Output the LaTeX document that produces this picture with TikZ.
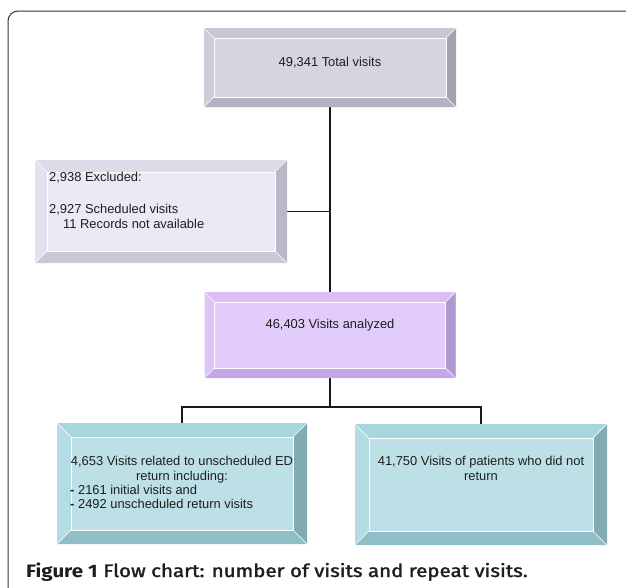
\documentclass[tikz,border=0pt]{standalone}
\usepackage{fontspec}
\setmainfont{Liberation Sans}
\newfontfamily\capfont{Fira Sans}
\newfontfamily\capsemi{Fira Sans}[FakeBold=1.6]
\usetikzlibrary{calc}
\definecolor{txtc}{HTML}{1E1E1E}
\definecolor{linec}{HTML}{1A1A1A}
\definecolor{framec}{HTML}{333333}
% grey box
\definecolor{gFace}{HTML}{D5D5E0}\definecolor{gTop}{HTML}{C6C6D4}\definecolor{gLeft}{HTML}{CDCDD9}\definecolor{gRight}{HTML}{A2A2B0}\definecolor{gBot}{HTML}{B2B2C2}
% light excluded box
\definecolor{eFace}{HTML}{EAEAF5}\definecolor{eTop}{HTML}{DCDCE8}\definecolor{eLeft}{HTML}{E2E2EE}\definecolor{eRight}{HTML}{B8B8C6}\definecolor{eBot}{HTML}{C8C8D6}
% purple box
\definecolor{pFace}{HTML}{E2CCFA}\definecolor{pTop}{HTML}{DCBDF6}\definecolor{pLeft}{HTML}{DEC5F8}\definecolor{pRight}{HTML}{B098D0}\definecolor{pBot}{HTML}{C4A7E6}
% teal boxes
\definecolor{tFace}{HTML}{BCE0E6}\definecolor{tTop}{HTML}{A8D6DE}\definecolor{tLeft}{HTML}{B4DCE4}\definecolor{tRight}{HTML}{82AAB2}\definecolor{tBot}{HTML}{90BEC6}
\newcommand\bevelbox[7]{%
  \fill[#3] (#1.north west) rectangle (#1.south east);
  \fill[#4] (#1.north west) -- (#1.north east) -- ($(#1.north east)+(-#2,#2)$) -- ($(#1.north west)+(#2,#2)$) -- cycle;
  \fill[#5] (#1.north west) -- ($(#1.north west)+(#2,#2)$) -- ($(#1.south west)+(#2,-#2)$) -- (#1.south west) -- cycle;
  \fill[#6] (#1.north east) -- ($(#1.north east)+(-#2,#2)$) -- ($(#1.south east)+(-#2,-#2)$) -- (#1.south east) -- cycle;
  \fill[#7] (#1.south west) -- ($(#1.south west)+(#2,-#2)$) -- ($(#1.south east)+(-#2,-#2)$) -- (#1.south east) -- cycle;
  \draw[white, line width=0.6pt] ($(#1.north west)+(#2,#2)$) rectangle ($(#1.south east)+(-#2,-#2)$);
  \draw[white, line width=0.5pt] (#1.north west) -- ($(#1.north west)+(#2,#2)$)
     (#1.north east) -- ($(#1.north east)+(-#2,#2)$)
     (#1.south west) -- ($(#1.south west)+(#2,-#2)$)
     (#1.south east) -- ($(#1.south east)+(-#2,-#2)$);
}
\begin{document}
\begin{tikzpicture}[x=1pt,y=-1pt,
  boxshape/.style={rectangle, inner sep=0pt, outer sep=0pt, draw=none},
  txt/.style={font=\fontsize{12.9}{15}\selectfont, text=txtc, inner sep=0pt},
  conn/.style={line width=1.2pt, draw=linec}]
\useasboundingbox[fill=white] (0,0) rectangle (627,587);
% outer frame
\draw[framec, line width=1pt, rounded corners=10pt] (626,11) -- (8,11) -- (8,588);

% boxes
\node[boxshape, minimum width=252pt, minimum height=79pt] (top) at (330,67.5) {};
\node[boxshape, minimum width=252pt, minimum height=103pt] (excl) at (161,211.5) {};
\node[boxshape, minimum width=251pt, minimum height=86pt] (mid) at (330,335) {};
\node[boxshape, minimum width=250pt, minimum height=121pt] (left) at (182,483.5) {};
\node[boxshape, minimum width=252pt, minimum height=121pt] (right) at (481,484.5) {};

% connectors
\draw[conn] (top.south) -- (mid.north);
\draw[conn] (excl.east) -- (excl.east -| top.south);
\coordinate (j) at (330,407);
\draw[conn] (mid.south) -- (j);
\draw[conn] (left.north) |- (j) -| (right.north);

\bevelbox{top}{10}{gFace}{gTop}{gLeft}{gRight}{gBot}
\bevelbox{excl}{12}{eFace}{eTop}{eLeft}{eRight}{eBot}
\bevelbox{mid}{10}{pFace}{pTop}{pLeft}{pRight}{pBot}
\bevelbox{left}{14}{tFace}{tTop}{tLeft}{tRight}{tBot}
\bevelbox{right}{14}{tFace}{tTop}{tLeft}{tRight}{tBot}

% texts
\node[txt, anchor=base] (t1) at (330,66.5) {49,341 Total visits};
\node[txt, anchor=base west] (e1) at (49,181.5) {2,938 Excluded:};
\node[txt, anchor=base west] (e2) at (49,213.5) {2,927 Scheduled visits};
\node[txt, anchor=base west] (e3) at (63,228.5) {11 Records not available};
\node[txt, anchor=base] (m1) at (330,328.5) {46,403 Visits analyzed};
\node[txt, anchor=base] (l1) at (182,465.5) {4,653 Visits related to unscheduled ED};
\node[txt, anchor=base] (l2) at (182,480) {return including:};
\node[txt, anchor=base west] (l3) at (70,494) {\textbf{-} 2161 initial visits and};
\node[txt, anchor=base west] (l4) at (70,508) {\textbf{-} 2492 unscheduled return visits};
\node[txt, anchor=base] (r1) at (481,465.5) {41,750 Visits of patients who did not};
\node[txt, anchor=base] (r2) at (481,480) {return};

% caption
\node[anchor=base west, inner sep=0pt, text=txtc, font=\fontsize{18}{20}\selectfont] (cap) at (26,577)
  {\scalebox{1.14}[1]{{\capfont\bfseries Figure 1} \capsemi Flow chart: number of visits and repeat visits.}};
\end{tikzpicture}
\end{document}
